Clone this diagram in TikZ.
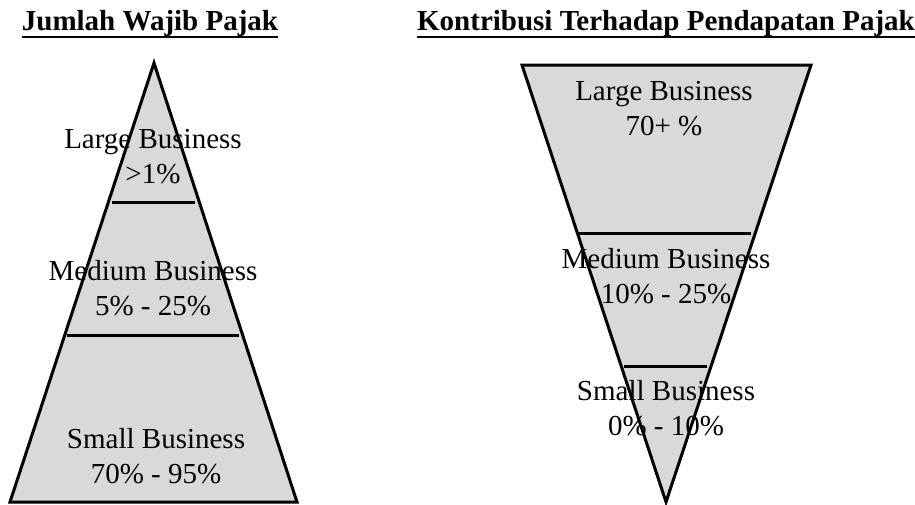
\documentclass[tikz,border=0pt]{standalone}
\usepackage{fontspec}
\setmainfont{Liberation Serif}
\usepackage{tikz}
\usetikzlibrary{positioning}

\begin{document}
\begin{tikzpicture}[
    x=1pt, y=-1pt,
    layer/.style={
        draw=black,
        fill=black!15,
        line width=3pt,
        line join=miter
    },
    divider/.style={
        draw=black,
        line width=3pt
    },
    label/.style={
        align=center,
        inner sep=0pt,
        anchor=base,
        font=\fontsize{29}{35}\selectfont
    },
    heading/.style={
        inner sep=0pt,
        anchor=base,
        font=\fontsize{29}{35}\selectfont\bfseries
    }
]
\useasboundingbox (0,0) rectangle (915,504);

% Headings
\node[heading] (numtitle) at (150,30) {Jumlah Wajib Pajak};
\node[heading] (contitle) at (666,30) {Kontribusi Terhadap Pendapatan Pajak};
\draw[line width=2pt] ([yshift=-1pt]numtitle.south west) -- ([yshift=-1pt]numtitle.south east);
\draw[line width=2pt] ([yshift=-1pt]contitle.south west) -- ([yshift=-1pt]contitle.south east);

% Left pyramid: number of taxpayers
\draw[layer] (154,63) -- (297,502) -- (10,502) -- cycle;
\draw[divider] (112,202) -- (195,202);
\draw[divider] (67,335) -- (239,335);

% Right funnel: contribution to tax revenue
\draw[layer] (522,65) -- (811,65) -- (666,502) -- cycle;
\draw[divider] (578,233) -- (751,233);
\draw[divider] (624,366) -- (707,366);

% Labels (anchored at the baseline of the last line)
\node[label] (numlarge) at (153,183) {Large Business\\>1\%};
\node[label] (nummedium) at (153,315) {Medium Business\\5\% - 25\%};
\node[label] (numsmall) at (156,483) {Small Business\\70\% - 95\%};

\node[label] (conlarge) at (664,135) {Large Business\\70+ \%};
\node[label] (conmedium) at (666,303) {Medium Business\\10\% - 25\%};
\node[label] (consmall) at (666,435) {Small Business\\0\% - 10\%};

\end{tikzpicture}
\end{document}
